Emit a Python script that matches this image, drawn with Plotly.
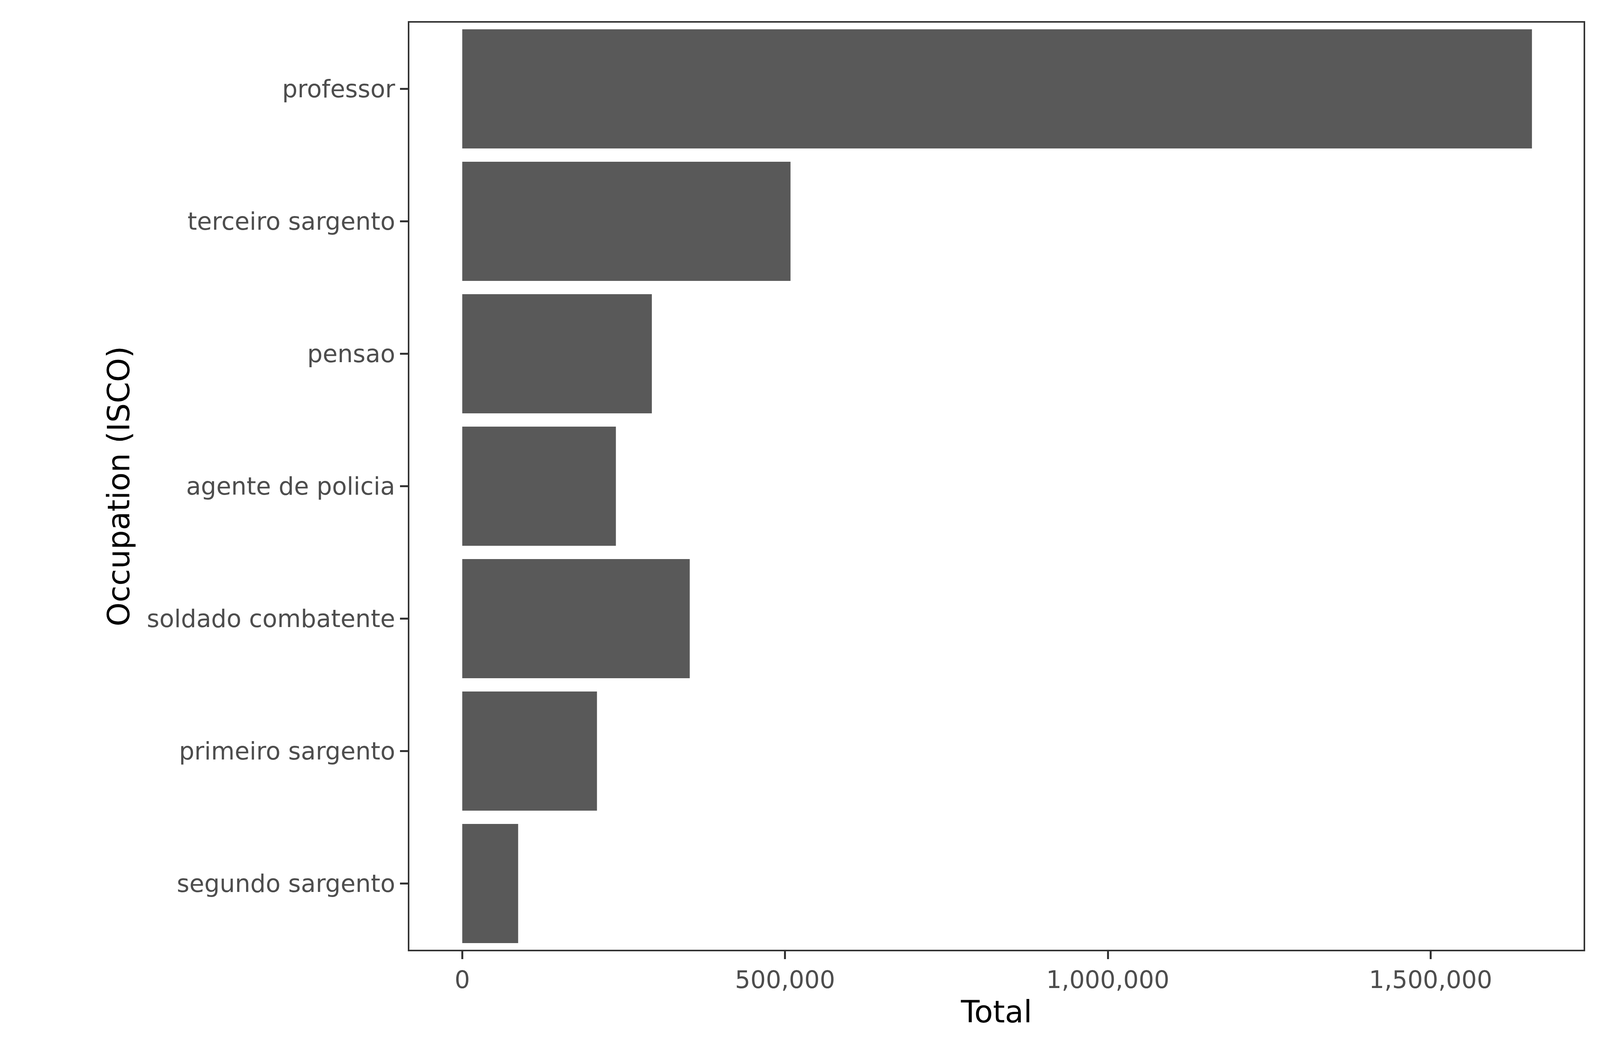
import plotly.graph_objects as go

# occupations, top to bottom as shown
occupations = ["professor", "terceiro sargento", "pensao", "agente de policia",
               "soldado combatente", "primeiro sargento", "segundo sargento"]
totals = [1657000, 508500, 293700, 238000, 352400, 208700, 86600]

tick_vals = [0, 500000, 1000000, 1500000]
tick_text = ["0", "500,000", "1,000,000", "1,500,000"]

fig = go.Figure(go.Bar(
    x=totals,
    y=occupations,
    orientation="h",
    marker=dict(color="#595959", line=dict(width=0)),
    width=0.9,
))

fig.update_layout(
    autosize=True,
    paper_bgcolor="white", plot_bgcolor="white",
    margin=dict(l=1040, r=34, t=50, b=280),
    font=dict(family="DejaVu Sans", size=62, color="#4d4d4d"),
    showlegend=False,
)
fig.update_xaxes(
    range=[-81900, 1737000],
    tickvals=tick_vals, ticktext=tick_text,
    ticks="outside", ticklen=20, tickwidth=5, tickcolor="#333333",
    showgrid=False, zeroline=False,
    showline=True, linecolor="#333333", linewidth=4, mirror=True,
    title=dict(text="Total", font=dict(size=78, color="black"), standoff=20),
)
fig.update_yaxes(
    categoryorder="array", categoryarray=occupations[::-1],
    ticks="outside", ticklen=20, tickwidth=5, tickcolor="#333333",
    showgrid=False, zeroline=False,
    showline=True, linecolor="#333333", linewidth=4, mirror=True,
    title=dict(text="Occupation (ISCO)", font=dict(size=78, color="black"), standoff=20),
)

fig.write_html("out.html", default_width="100%", default_height="100vh",
               config={"responsive": True})
